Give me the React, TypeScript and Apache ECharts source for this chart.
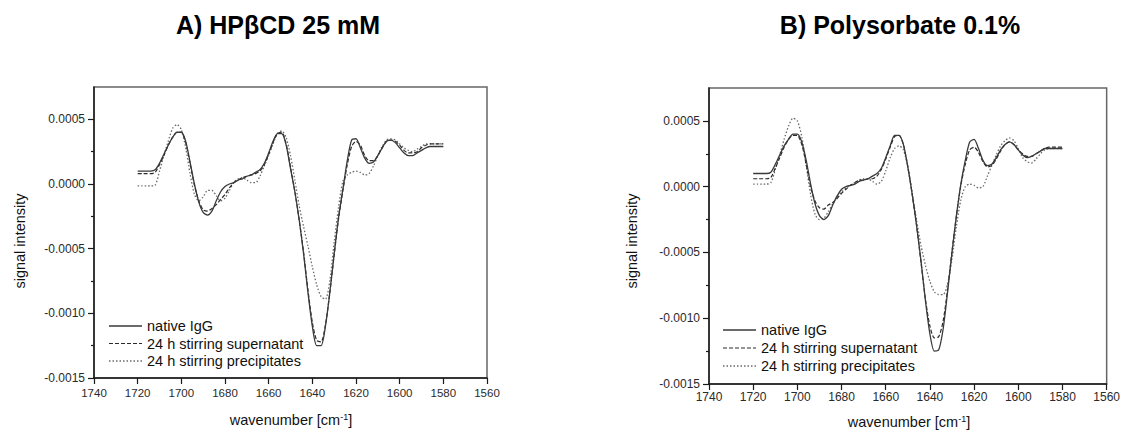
import React, { useEffect, useRef } from "react";
import * as echarts from "echarts";

// wavenumber grid (cm^-1)
const wavenumbers = [
  1720, 1718, 1716, 1714, 1712, 1710, 1708, 1706, 1704, 1702,
  1700, 1698, 1696, 1694, 1692, 1690, 1688, 1686, 1684, 1682,
  1680, 1678, 1676, 1674, 1672, 1670, 1668, 1666, 1664, 1662,
  1660, 1658, 1656, 1654, 1652, 1650, 1648, 1646, 1644, 1642,
  1640, 1638, 1636, 1634, 1632, 1630, 1628, 1626, 1624, 1622,
  1620, 1618, 1616, 1614, 1612, 1610, 1608, 1606, 1604, 1602,
  1600, 1598, 1596, 1594, 1592, 1590, 1588, 1586, 1584, 1582,
  1580,
];

const seriesNames = ["native IgG", "24 h stirring supernatant", "24 h stirring precipitates"];
const panelTitles = ["A) HP\u03B2CD 25 mM", "B) Polysorbate 0.1%"];
const yMajorTicks = [-0.0015, -0.001, -0.0005, 0, 0.0005];
const yMinorTicks = [-0.00125, -0.00075, -0.00025, 0.00025];

// Panel A: HPbCD 25 mM
const hpNative = [
  0.00010, 0.00010, 0.00010, 0.00010, 0.00011, 0.00016, 0.00023, 0.00030, 0.00036, 0.00040,
  0.00040, 0.00033, 0.00017, 0.00000, -0.00014, -0.00022, -0.00024, -0.00021, -0.00013, -0.00006,
  -0.00002, 0.00000, 0.00001, 0.00003, 0.00004, 0.00006, 0.00007, 0.00009, 0.00011, 0.00016,
  0.00024, 0.00033, 0.00039, 0.00039, 0.00030, 0.00012, -0.00006, -0.00028, -0.00054, -0.00084,
  -0.00110, -0.00125, -0.00125, -0.00110, -0.00084, -0.00054, -0.00026, -0.00004, 0.00018, 0.00034,
  0.00035, 0.00028, 0.00020, 0.00016, 0.00017, 0.00022, 0.00028, 0.00033, 0.00034, 0.00032,
  0.00028, 0.00024, 0.00022, 0.00022, 0.00024, 0.00026, 0.00028, 0.00029, 0.00029, 0.00029,
  0.00029,
];
const hpSupernatant = [
  0.00008, 0.00008, 0.00008, 0.00008, 0.00009, 0.00015, 0.00022, 0.00030, 0.00036, 0.00040,
  0.00040, 0.00032, 0.00016, -0.00001, -0.00013, -0.00020, -0.00021, -0.00019, -0.00016, -0.00012,
  -0.00008, -0.00003, 0.00001, 0.00003, 0.00005, 0.00006, 0.00007, 0.00008, 0.00010, 0.00015,
  0.00023, 0.00032, 0.00039, 0.00040, 0.00031, 0.00013, -0.00006, -0.00028, -0.00053, -0.00082,
  -0.00107, -0.00121, -0.00122, -0.00109, -0.00084, -0.00055, -0.00027, -0.00005, 0.00015, 0.00029,
  0.00033, 0.00030, 0.00022, 0.00018, 0.00018, 0.00022, 0.00028, 0.00033, 0.00034, 0.00033,
  0.00030, 0.00026, 0.00024, 0.00024, 0.00025, 0.00028, 0.00030, 0.00031, 0.00031, 0.00031,
  0.00031,
];
const hpPrecipitates = [
  -0.000015, -0.000015, -0.000015, -0.000015, -0.00001, 0.00010, 0.00022, 0.00033, 0.00043, 0.00046,
  0.00042, 0.00028, 0.00008, -0.00008, -0.00013, -0.00010, -0.00005, -0.00005, -0.00009, -0.00013,
  -0.00011, -0.00005, 0.00001, 0.00004, 0.00005, 0.00003, 0.00001, 0.00001, 0.00006, 0.00014,
  0.00022, 0.00031, 0.00039, 0.00041, 0.00036, 0.00022, 0.00003, -0.00017, -0.00033, -0.00048,
  -0.00064, -0.00078, -0.00087, -0.00089, -0.00075, -0.00045, -0.00018, 0.00002, 0.00007, 0.00009,
  0.00010, 0.00009, 0.00007, 0.00008, 0.00014, 0.00022, 0.00029, 0.00034, 0.00035, 0.00034,
  0.00031, 0.00028, 0.00026, 0.00025, 0.00027, 0.00029, 0.00031, 0.00031, 0.00031, 0.00031,
  0.00031,
];

// Panel B: Polysorbate 0.1%
const psNative = [
  0.00010, 0.00010, 0.00010, 0.00010, 0.00011, 0.00017, 0.00024, 0.00031, 0.00036, 0.00040,
  0.00040, 0.00034, 0.00020, 0.00002, -0.00013, -0.00022, -0.00025, -0.00022, -0.00014, -0.00007,
  -0.00002, 0.00000, 0.00001, 0.00002, 0.00004, 0.00005, 0.00006, 0.00008, 0.00010, 0.00014,
  0.00022, 0.00031, 0.00039, 0.00039, 0.00032, 0.00015, -0.00006, -0.00030, -0.00057, -0.00087,
  -0.00112, -0.00125, -0.00124, -0.00108, -0.00080, -0.00050, -0.00022, 0.00002, 0.00020, 0.00034,
  0.00036, 0.00029, 0.00020, 0.00016, 0.00017, 0.00022, 0.00028, 0.00032, 0.00034, 0.00032,
  0.00028, 0.00024, 0.00022, 0.00023, 0.00025, 0.00027, 0.00029, 0.00029, 0.00029, 0.00029,
  0.00029,
];
const psSupernatant = [
  0.00006, 0.00006, 0.00006, 0.00006, 0.00007, 0.00014, 0.00022, 0.00030, 0.00036, 0.00039,
  0.00039, 0.00032, 0.00017, 0.00000, -0.00011, -0.00016, -0.00017, -0.00014, -0.00012, -0.00009,
  -0.00005, -0.00002, 0.00001, 0.00003, 0.00005, 0.00005, 0.00006, 0.00006, 0.00008, 0.00013,
  0.00021, 0.00030, 0.00038, 0.00039, 0.00032, 0.00015, -0.00006, -0.00030, -0.00058, -0.00086,
  -0.00106, -0.00115, -0.00114, -0.00102, -0.00078, -0.00049, -0.00022, 0.00001, 0.00017, 0.00028,
  0.00030, 0.00026, 0.00019, 0.00015, 0.00016, 0.00021, 0.00027, 0.00032, 0.00034, 0.00032,
  0.00028, 0.00025, 0.00023, 0.00023, 0.00025, 0.00027, 0.00029, 0.00030, 0.00030, 0.00030,
  0.00030,
];
const psPrecipitates = [
  0.00002, 0.00002, 0.00002, 0.00002, 0.00003, 0.00013, 0.00024, 0.00036, 0.00046, 0.00052,
  0.00050, 0.00038, 0.00016, -0.00006, -0.00021, -0.00025, -0.00024, -0.00019, -0.00013, -0.00008,
  -0.00004, -0.00001, 0.00001, 0.00003, 0.00005, 0.00006, 0.00006, 0.00004, 0.00002, 0.00004,
  0.00012, 0.00022, 0.00029, 0.00031, 0.00028, 0.00015, -0.00005, -0.00026, -0.00045, -0.00060,
  -0.00072, -0.00080, -0.00082, -0.00082, -0.00074, -0.00055, -0.00030, -0.00010, 0.00000, 0.00002,
  0.00001, -0.00001, 0.00000, 0.00008, 0.00016, 0.00024, 0.00031, 0.00035, 0.00037, 0.00035,
  0.00029, 0.00022, 0.00019, 0.00018, 0.00021, 0.00025, 0.00028, 0.00029, 0.00029, 0.00029,
  0.00029,
];

const FONT = "'Liberation Sans', Arial, Helvetica, sans-serif";

const styles = [
  { color: "#3a3a3a", width: 1.3, dash: null as number[] | null },
  { color: "#2a2a2a", width: 1.2, dash: [4, 2] },
  { color: "#6a6a6a", width: 1.3, dash: [1.5, 2] },
];

function makeSeries(name: string, values: number[], grid: number, styleIdx: number) {
  const s = styles[styleIdx];
  return {
    type: "line",
    name,
    xAxisIndex: grid,
    yAxisIndex: grid * 2,
    data: wavenumbers.map((w, i) => [w, values[i]]),
    symbol: "none",
    showSymbol: false,
    smooth: 0.25,
    lineStyle: { color: s.color, width: s.width, type: s.dash ? s.dash : "solid" },
    itemStyle: { color: s.color },
    z: 3 - styleIdx,
  };
}

function isMajor(v: number) {
  const r = v / 0.0005;
  return Math.abs(r - Math.round(r)) < 1e-6;
}

function legendGraphics(x0: number, y0: number, step: number) {
  const out: any[] = [];
  seriesNames.forEach((name, i) => {
    const s = styles[i];
    const y = y0 + i * step;
    out.push({
      type: "line",
      shape: { x1: x0, y1: y, x2: x0 + 33, y2: y },
      style: { stroke: s.color, lineWidth: s.width, lineDash: s.dash || undefined },
      silent: true,
    });
    out.push({
      type: "text",
      x: x0 + 38,
      y,
      style: {
        text: name,
        fontSize: 14.5,
        fontFamily: FONT,
        fill: "#111",
        align: "left",
        verticalAlign: "middle",
      },
      silent: true,
    });
  });
  return out;
}

export default function App() {
  const ref = useRef<HTMLDivElement>(null);

  useEffect(() => {
    if (!ref.current) return;
    const chart = echarts.init(ref.current, undefined, { renderer: "svg" });

    const grids = [
      { left: 94, top: 87, width: 393, height: 291 },
      { left: 709, top: 88, width: 402, height: 296 },
    ];

    const xAxes = grids.map((_, g) => ({
      gridIndex: g,
      type: "value",
      min: 1560,
      max: 1740,
      interval: 20,
      inverse: true,
      axisLine: { show: true, onZero: false, lineStyle: { color: "#1a1a1a", width: 1.5 } },
      axisTick: { show: true, inside: false, length: 6, lineStyle: { color: "#1a1a1a", width: 1.2 } },
      axisLabel: {
        show: true,
        margin: g === 0 ? 9 : 7,
        fontSize: g === 0 ? 11.5 : 12,
        color: "#2a2a2a",
        fontFamily: FONT,
        showMinLabel: true,
        showMaxLabel: true,
        hideOverlap: false,
        formatter: (v: number) => String(Math.round(v)),
      },
      splitLine: { show: false },
    }));

    const yAxes: any[] = [];
    grids.forEach((_, g) => {
      yAxes.push({
        gridIndex: g,
        type: "value",
        position: "left",
        min: -0.0015,
        max: 0.00075,
        interval: 0.0005,
        axisLine: { show: true, onZero: false, lineStyle: { color: "#1a1a1a", width: 1.5 } },
        axisTick: { show: true, inside: false, length: 6, customValues: yMajorTicks, lineStyle: { color: "#1a1a1a", width: 1.2 } },
        axisLabel: {
          show: true,
          customValues: yMajorTicks,
          margin: 9,
          fontSize: 12,
          color: "#2a2a2a",
          fontFamily: FONT,
          formatter: (v: number) => (isMajor(v) ? v.toFixed(4) : ""),
        },
        splitLine: { show: false },
      });
      yAxes.push({
        gridIndex: g,
        type: "value",
        position: "left",
        min: -0.0015,
        max: 0.00075,
        interval: 0.0005,
        axisLine: { show: false, onZero: false },
        axisTick: { show: true, inside: false, length: 3, customValues: yMinorTicks, lineStyle: { color: "#1a1a1a", width: 1.2 } },
        axisLabel: { show: false },
        splitLine: { show: false },
      });
    });

    const series = [
      makeSeries(seriesNames[0], hpNative, 0, 0),
      makeSeries(seriesNames[1], hpSupernatant, 0, 1),
      makeSeries(seriesNames[2], hpPrecipitates, 0, 2),
      makeSeries(seriesNames[0], psNative, 1, 0),
      makeSeries(seriesNames[1], psSupernatant, 1, 1),
      makeSeries(seriesNames[2], psPrecipitates, 1, 2),
    ];

    const xNameRich = {
      sup: { fontSize: 9, lineHeight: 9, verticalAlign: "top", fill: "#111", fontFamily: FONT },
    };

    const textEl = (x: number, y: number, text: string, extra: any = {}, rot = 0) => ({
      type: "text",
      x,
      y,
      rotation: rot,
      silent: true,
      style: {
        text,
        fontSize: 14.5,
        fontFamily: FONT,
        fill: "#111",
        align: "center",
        verticalAlign: "middle",
        ...extra,
      },
    });

    chart.setOption({
      animation: false,
      backgroundColor: "#ffffff",
      textStyle: { fontFamily: FONT },
      grid: grids.map((gr) => ({
        ...gr,
        show: true,
        borderColor: "#666",
        borderWidth: 1.5,
        backgroundColor: "transparent",
        containLabel: false,
      })),
      xAxis: xAxes,
      yAxis: yAxes,
      series,
      graphic: [
        textEl(278, 25, panelTitles[0], { fontSize: 25, fontWeight: "bold", fill: "#000" }),
        textEl(900, 25, panelTitles[1], { fontSize: 25, fontWeight: "bold", fill: "#000" }),
        textEl(20, 241, "signal intensity", {}, Math.PI / 2),
        textEl(632, 241, "signal intensity", {}, Math.PI / 2),
        textEl(291, 420, "wavenumber [cm{sup|-1}]", { rich: xNameRich, lineHeight: 16 }),
        textEl(909, 422, "wavenumber [cm{sup|-1}]", { rich: xNameRich, lineHeight: 16 }),
        ...legendGraphics(109, 326, 17.5),
        ...legendGraphics(723, 330, 18),
      ],
    });

    return () => chart.dispose();
  }, []);

  return (
    <div
      ref={ref}
      style={{ position: "fixed", left: 0, top: 0, width: 1123, height: 432, background: "#fff" }}
    />
  );
}
